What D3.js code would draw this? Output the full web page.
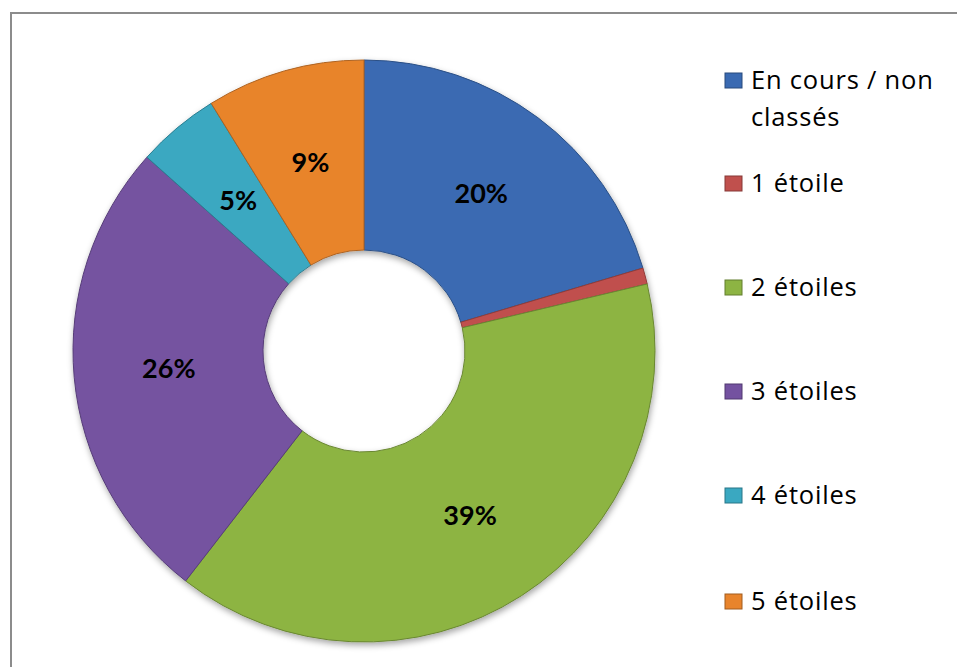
<!DOCTYPE html>
<html>
<head>
<meta charset="utf-8">
<script src="https://cdn.jsdelivr.net/npm/d3@7"></script>
<style>
  body { margin: 0; background: #fff; }
  svg { display: block; }
</style>
</head>
<body>
<div id="chart"></div>
<script>
// data (share of hotels by rating)
const categories = ["En cours / non classés", "1 étoile", "2 étoiles", "3 étoiles", "4 étoiles", "5 étoiles"];
const values = [20.4, 0.9, 39.2, 26.1, 4.6, 8.8];
const colors = ["#3a6ab2", "#c0504d", "#8db443", "#7452a0", "#3aa8c1", "#e8842c"];

const width = 957, height = 667;
const cx = 364, cy = 351;
const outerR = 291, innerR = 101;

const svg = d3.select("#chart")
  .append("svg")
  .attr("width", width)
  .attr("height", height);

// chart frame (right / bottom edges fall outside the window)
svg.append("rect")
  .attr("x", 11).attr("y", 13)
  .attr("width", 970).attr("height", 680)
  .attr("fill", "none")
  .attr("stroke", "#8c8c8c")
  .attr("stroke-width", 2);

const defs = svg.append("defs");
const shadow = defs.append("filter").attr("id", "shadow")
  .attr("x", "-10%").attr("y", "-10%").attr("width", "120%").attr("height", "120%");
shadow.append("feDropShadow")
  .attr("dx", 1).attr("dy", 3).attr("stdDeviation", 3)
  .attr("flood-color", "#000").attr("flood-opacity", 0.35);

const pie = d3.pie().sort(null).value(d => d)(values);
const arc = d3.arc().innerRadius(innerR).outerRadius(outerR);

const g = svg.append("g")
  .attr("transform", `translate(${cx},${cy})`);

g.append("g")
  .attr("filter", "url(#shadow)")
  .selectAll("path")
  .data(pie)
  .join("path")
  .attr("d", arc)
  .attr("fill", (d, i) => colors[i])
  .attr("stroke", (d, i) => d3.color(colors[i]).darker(0.8))
  .attr("stroke-width", 1);

// labels at the middle of each ring segment
g.selectAll("text.lbl")
  .data(pie.filter(d => d.data >= 2))
  .join("text")
  .attr("class", "lbl")
  .attr("transform", d => `translate(${arc.centroid(d)})`)
  .attr("text-anchor", "middle")
  .attr("dy", "0.35em")
  .attr("font-family", "Lato, 'Open Sans', sans-serif")
  .attr("font-weight", "bold")
  .attr("font-size", 27)
  .attr("fill", "#000")
  .text(d => Math.round(d.data) + "%");

// legend
const legendX = 725;
const rowsY = [80, 183, 287, 391, 495, 601];
const legend = svg.append("g");

categories.forEach((c, i) => {
  const row = legend.append("g").attr("transform", `translate(${legendX},${rowsY[i]})`);
  row.append("rect")
    .attr("x", 0).attr("y", -7)
    .attr("width", 17).attr("height", 15)
    .attr("fill", colors[i])
    .attr("stroke", d3.color(colors[i]).darker(1))
    .attr("stroke-width", 1);
  const t = row.append("text")
    .attr("x", 26)
    .attr("dy", "0.35em")
    .attr("font-family", "'Open Sans', sans-serif")
    .attr("font-size", 25.5)
    .attr("letter-spacing", 0.8)
    .attr("fill", "#000");
  if (i === 0) {
    t.append("tspan").attr("x", 26).text("En cours / non");
    t.append("tspan").attr("x", 26).attr("dy", 37).text("classés");
  } else {
    t.text(c);
  }
});
</script>
</body>
</html>
